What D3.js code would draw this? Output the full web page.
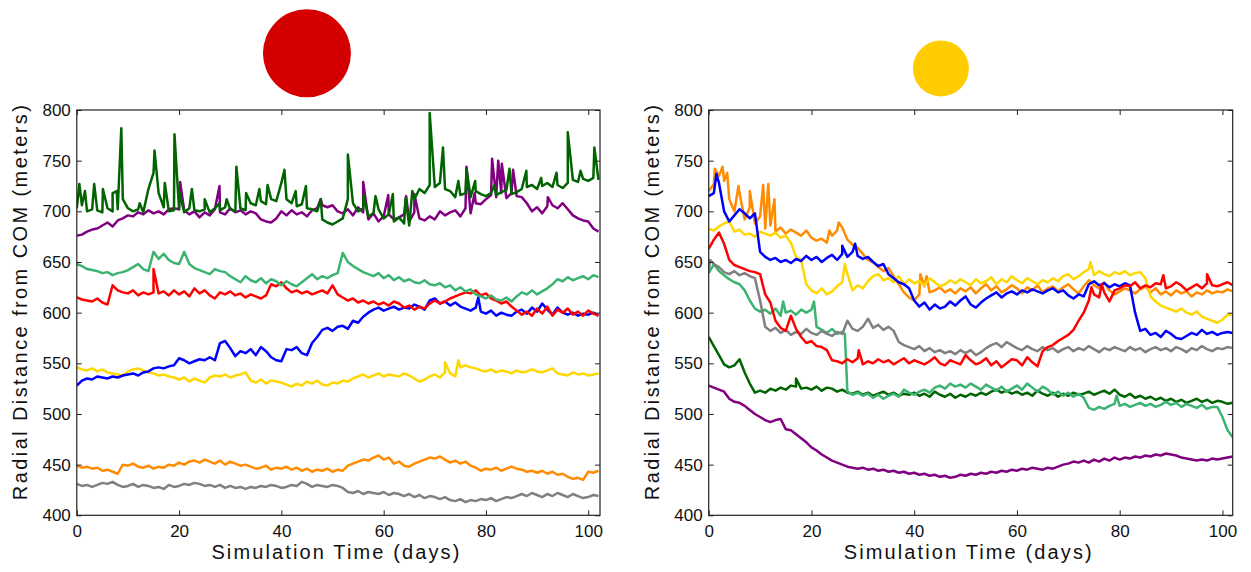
<!DOCTYPE html>
<html>
<head>
<meta charset="utf-8">
<script src="https://cdn.jsdelivr.net/npm/d3@7"></script>
<style>
  body { margin: 0; background: #fff; }
  text { font-family: "Liberation Sans", Arial, sans-serif; fill: #111; }
</style>
</head>
<body>
<script>
// Radial distance (m) sampled once per simulated day, day 0..102
// ---- left panel ----
var leftGray = [431,429,430,428,430,432,431,433,430,428, 429,431,428,430,429,427,428,426,430,428,
  429,431,430,432,431,429,430,428,430,427, 429,427,428,426,428,427,429,428,430,429,
  427,428,430,429,433,431,428,430,429,428, 430,429,427,423,422,424,421,423,422,421,
  423,420,422,421,419,421,418,420,417,419, 418,416,418,415,414,416,413,415,414,416,
  415,417,414,416,418,417,419,421,419,422, 420,418,421,419,422,420,418,421,419,417, 418,420,419];
var leftOrange = [449,447,448,446,447,444,445,443,441,450, 449,451,448,447,449,446,448,447,450,449,
  452,450,453,454,452,455,453,451,454,450, 453,451,449,450,448,446,447,449,445,447,
  446,448,445,447,444,446,443,445,444,446, 443,445,444,449,451,453,455,454,457,459,
  455,457,451,453,449,448,451,453,455,457, 456,458,455,452,454,451,453,449,447,444,
  446,445,447,444,446,448,446,445,443,444, 442,444,441,443,440,441,438,436,437,435, 443,442,444];
var leftGold = [546,544,543,545,542,544,541,540,539,538, 542,544,545,543,541,540,538,539,537,536,
  534,536,532,535,533,531,536,538,537,539, 536,538,539,541,533,531,534,530,533,532,
  531,529,527,530,528,532,530,533,529,528, 531,530,533,532,535,537,539,536,538,540,
  537,539,538,537,540,538,535,532,534,537, 539,536,541,540,537,546,548,546,545,543,
  542,544,541,543,542,540,543,541,542,544, 542,541,543,545,540,539,538,541,539,540, 538,539,540];
var leftBlue = [528,533,535,534,537,536,535,537,536,538, 539,540,538,541,542,545,546,545,547,548,
  555,553,550,552,554,553,556,553,570,572, 565,557,562,560,564,558,566,562,556,553,
  552,564,563,566,560,558,570,576,583,585, 582,586,587,584,592,590,596,600,603,605,
  602,604,606,603,605,604,608,606,603,612, 614,609,611,607,610,606,604,602,605,601,
  599,602,597,600,598,597,601,603,599,605, 601,609,603,598,605,600,598,600,597,599, 598,600,597];
var leftRed = [615,613,612,611,614,610,608,627,622,620, 619,622,617,620,618,620,619,621,617,622,
  618,621,616,624,619,622,617,614,620,618, 621,617,619,615,618,616,614,617,628,626,
  630,624,620,622,619,621,618,620,622,619, 627,618,615,612,614,610,612,609,611,608,
  610,607,611,609,605,607,603,606,604,609, 612,609,611,614,616,618,620,619,622,617,
  619,614,612,609,611,606,602,598,601,597, 604,599,606,597,603,600,604,598,601,597, 602,599,597];
var leftSeaGreen = [648,646,643,642,641,639,640,637,639,640, 642,645,648,643,641,660,653,658,652,649,
  648,660,648,644,642,640,638,643,641,640, 636,633,630,636,632,630,634,629,633,631,
  627,631,628,626,630,634,638,633,636,634, 637,639,659,650,646,643,640,638,636,639,
  634,637,632,635,631,633,630,629,632,628, 627,629,625,627,622,625,621,623,618,616,
  614,617,613,612,615,611,616,620,618,622, 618,621,624,628,633,631,635,632,634,636, 633,637,635];
var leftPurple = [676,677,680,682,683,686,689,685,691,693, 696,695,699,697,701,698,700,697,702,703,
  702,701,697,700,694,699,696,702,699,697, 703,699,701,697,700,698,692,690,689,693,
  700,696,701,697,699,695,701,703,706,704, 706,700,698,702,696,704,699,692,698,690,
  695,697,692,694,697,690,699,693,691,695, 692,700,696,699,701,695,703,698,708,707,
  712,716,714,718,713,718,715,714,708,700, 704,698,705,706,703,708,702,696,693,691, 690,683,680];
var leftDarkGreen = [703,706,700,702,701,699,703,700,702,712, 703,700,702,699,722,738,718,704,700,701,
  702,699,703,701,700,702,699,703,701,704, 702,700,703,701,708,706,710,707,712,710,
  728,712,708,705,707,703,702,700,692,689, 687,690,693,712,708,700,703,695,698,702,
  693,697,690,694,688,686,712,722,718,726, 724,728,722,720,714,716,718,714,720,717,
  715,718,716,719,721,717,719,722,724,726, 722,725,728,724,726,723,728,731,729,732, 730,733,731];

// short excursions between daily samples: [day, metres]
var leftDarkGreenSpikes = [[0.5,727],[1.6,720],[3.4,727],[5.1,722],[7.0,718],[7.8,720],[8.7,782],[12.3,708],
  [15.2,760],[17.2,728],[19.1,776],[20.0,720],[22.5,722],[25.0,712],[27.9,708],[29.3,712],[31.2,744],
  [33.1,718],[35.7,722],[37.3,726],[40.6,741],[42.8,720],[44.8,725],[47.7,712],[53.0,756],[56.1,716],
  [58.4,715],[61.8,717],[64.3,713],[65.6,720],[69.0,797],[71.6,763],[74.6,730],[76.2,742],[77.9,730],
  [81.7,726],[84.6,742],[87.9,740],[90.8,733],[93.8,738],[96.0,778],[98.5,740],[101.2,763]];
var leftPurpleSpikes = [[20.2,729],[27.9,725],[47.7,712],[56.0,729],[60.9,716],[64.4,715],[66.0,717],
  [76.2,744],[77.8,718],[81.2,752],[82.4,750],[83.1,747],[85.3,741],[92.1,714]];
var leftRedSpikes = [[15.0,643]];
var leftBlueSpikes = [[78.5,615]];
var leftGoldSpikes = [[72.0,551],[74.6,553]];

// ---- right panel ----
var rightPurple = [528,526,524,522,515,512,511,508,504,500, 497,494,492,494,495,485,484,480,476,472,
  467,464,460,457,454,452,450,448,447,446, 447,445,446,444,445,443,444,442,443,441,
  442,440,441,439,440,438,439,437,438,440, 439,441,440,442,441,443,442,444,443,445,
  444,446,445,447,446,445,447,446,448,450, 451,453,452,454,452,455,453,456,454,457,
  455,457,456,458,457,459,458,460,459,461, 460,459,457,456,455,454,455,454,456,455, 456,457,458];
var rightDarkGreen = [576,567,558,549,546,548,554,541,530,521, 523,521,525,523,526,524,528,527,525,526,
  524,527,523,526,525,522,524,521,520,522, 519,521,518,520,522,519,521,518,520,519,
  521,518,520,517,522,519,517,520,516,519, 517,520,518,521,519,522,524,521,523,520,
  522,519,521,518,523,520,518,521,517,520, 518,521,519,520,522,519,521,523,520,524,
  519,517,520,516,518,515,517,514,516,513, 515,512,514,511,513,515,512,514,511,513, 512,510,511];
var rightSeaGreen = [639,648,641,637,633,630,628,622,612,604, 601,603,599,604,597,600,602,598,603,600,
  603,586,583,580,584,579,581,522,519,521, 518,520,516,519,515,518,520,517,524,521,
  519,522,524,521,526,528,525,530,527,529, 526,530,527,524,529,526,523,527,522,525,
  528,524,530,526,522,527,524,519,522,518, 521,517,520,516,506,504,507,505,508,510,
  508,510,507,509,511,508,510,507,509,512, 509,511,507,510,508,506,509,505,507,507, 497,484,477];
var rightGray = [643,648,645,640,638,641,637,639,636,634, 612,586,582,585,580,583,578,581,579,584,
  580,578,582,579,577,581,579,592,584,582, 586,594,585,588,583,586,582,571,568,566,
  564,567,562,565,561,563,560,562,559,563, 560,563,558,561,565,568,570,566,571,568,
  565,563,567,564,562,566,563,565,561,564, 566,562,565,563,567,564,561,565,563,566,
  564,562,566,563,565,561,564,566,563,565, 562,566,564,561,565,563,567,564,562,565, 564,566,565];
var rightOrange = [720,727,735,730,712,700,718,692,704,688, 695,683,686,680,684,678,682,679,676,681,
  674,671,673,669,676,681,684,672,667,664, 658,652,650,645,641,644,636,628,620,615,
  612,618,626,620,622,625,620,623,619,624, 621,625,619,624,628,622,626,620,623,627,
  624,619,625,622,627,620,624,626,621,625, 628,623,619,626,632,627,624,630,622,618,
  621,624,622,619,623,626,620,624,618,621, 617,622,619,621,616,620,618,622,619,621, 620,623,621];
var rightBlue = [715,718,728,700,690,696,702,698,693,698, 660,655,652,654,650,652,649,653,651,656,
  652,655,650,654,657,652,658,655,660,656, 653,655,650,646,648,638,634,630,628,624,
  612,606,610,603,608,604,606,611,607,612, 616,608,605,610,614,617,620,615,619,621,
  618,622,620,623,621,619,622,624,620,622, 617,614,618,616,628,631,627,629,625,628,
  626,629,627,600,582,584,578,580,576,582, 579,575,574,577,580,578,583,579,581,578, 580,581,580];
var rightGold = [683,681,685,688,690,680,682,677,678,675, 680,678,676,679,674,676,669,655,652,628,
  622,619,624,618,621,626,630,638,622,627, 624,631,636,638,632,634,630,636,628,633,
  629,631,627,634,630,626,628,632,629,633, 630,627,633,629,631,635,628,633,630,636,
  632,629,634,631,628,632,630,634,631,636, 638,633,636,640,643,637,641,638,636,640,
  638,641,637,639,640,634,616,611,607,605, 603,601,604,600,598,601,596,594,592,590, 593,598,598];
var rightRed = [663,672,679,668,652,647,645,643,641,640, 638,618,610,592,585,582,597,584,576,570,
  572,567,566,563,553,552,550,554,551,555, 549,552,550,554,551,553,549,552,555,550,
  553,551,549,552,556,550,548,553,551,549, 558,553,549,551,555,548,552,546,550,554,
  553,548,556,551,547,562,566,568,572,575, 578,583,592,600,612,618,615,620,611,622,
  624,627,626,630,624,627,625,629,628,624, 626,630,627,622,625,628,624,629,627,626, 628,630,627];

var rightOrangeSpikes = [[1.2,742],[2.7,744],[3.6,738],[5.8,725],[8.0,720],[10.6,726],[11.6,727],[12.8,712],[23.5,681],[25.3,689],[41.2,638],[42.4,636]];
var rightBlueSpikes = [[1.5,737],[26.0,666],[28.5,668]];
var rightGoldSpikes = [[26.5,648],[74.3,650]];
var rightRedSpikes = [[29.2,563],[74.5,625],[76.5,628],[88.5,637],[97.0,638]];
var rightGraySpikes = [[0.3,652]];
var rightSeaGreenSpikes = [[14.5,611],[20.5,611],[26.5,579],[79.4,518]];
var rightDarkGreenSpikes = [[17.0,535]];

var xTicks = [0, 20, 40, 60, 80, 100],
    yTicks = [400, 450, 500, 550, 600, 650, 700, 750, 800];

var colors = {
  gray: "#808080", orange: "#ff8c00", gold: "#ffd700", blue: "#0000ff",
  red: "#ff0000", seagreen: "#3cb371", purple: "#800080", darkgreen: "#006400"
};

// series in drawing order (last on top)
var leftSeries = [
  {c: "gray", v: leftGray}, {c: "orange", v: leftOrange}, {c: "gold", v: leftGold, s: leftGoldSpikes},
  {c: "blue", v: leftBlue, s: leftBlueSpikes}, {c: "red", v: leftRed, s: leftRedSpikes},
  {c: "seagreen", v: leftSeaGreen}, {c: "purple", v: leftPurple, s: leftPurpleSpikes},
  {c: "darkgreen", v: leftDarkGreen, s: leftDarkGreenSpikes}
];
var rightSeries = [
  {c: "purple", v: rightPurple}, {c: "darkgreen", v: rightDarkGreen, s: rightDarkGreenSpikes},
  {c: "seagreen", v: rightSeaGreen, s: rightSeaGreenSpikes}, {c: "gray", v: rightGray, s: rightGraySpikes},
  {c: "orange", v: rightOrange, s: rightOrangeSpikes}, {c: "gold", v: rightGold, s: rightGoldSpikes},
  {c: "blue", v: rightBlue, s: rightBlueSpikes}, {c: "red", v: rightRed, s: rightRedSpikes}
];

var W = 1251, H = 572;
var svg = d3.select("body").append("svg")
            .attr("width", W)
            .attr("height", H);

var panels = [
  {left: 76.8, right: 600, xMax: 102.3, series: leftSeries, id: "L",
   dot: {t: 45, v: 856, r: 44, fill: "#d40000"}},
  {left: 708.7, right: 1232.7, xMax: 102, series: rightSeries, id: "R",
   dot: {t: 45.2, v: 841, r: 28, fill: "#ffcc00"}}
];
var plotTop = 110, plotBottom = 515.3;

function toPoints(d) {
  var pts = d.v.map((v, i) => [i, v]);
  if (d.s) pts = pts.concat(d.s);
  return pts.sort((a, b) => a[0] - b[0]);
}

panels.forEach(p => {
  var x = d3.scaleLinear().domain([0, p.xMax]).range([p.left, p.right]),
      y = d3.scaleLinear().domain([400, 800]).range([plotBottom, plotTop]);

  var line = d3.line()
      .x(d => x(d[0]))
      .y(d => y(d[1]));

  svg.append("defs").append("clipPath")
     .attr("id", "clip" + p.id)
     .append("rect")
     .attr("x", p.left).attr("y", plotTop)
     .attr("width", p.right - p.left).attr("height", plotBottom - plotTop);

  // marker circle above the plot
  svg.append("circle")
     .attr("cx", x(p.dot.t))
     .attr("cy", y(p.dot.v))
     .attr("r", p.dot.r)
     .attr("fill", p.dot.fill);

  svg.append("g")
     .attr("clip-path", "url(#clip" + p.id + ")")
     .selectAll("path")
     .data(p.series)
     .enter()
     .append("path")
     .attr("d", d => line(toPoints(d)))
     .attr("fill", "none")
     .attr("stroke", d => colors[d.c])
     .attr("stroke-width", 2.5)
     .attr("stroke-linejoin", "round");

  // axes, ticks pointing inward on all four sides
  var gx = svg.append("g")
     .attr("transform", "translate(0," + plotBottom + ")")
     .call(d3.axisBottom(x).tickValues(xTicks).tickSizeInner(-5).tickSizeOuter(0).tickPadding(10));
  var gy = svg.append("g")
     .attr("transform", "translate(" + p.left + ",0)")
     .call(d3.axisLeft(y).tickValues(yTicks).tickSizeInner(-5).tickSizeOuter(0).tickPadding(6));
  var gt = svg.append("g")
     .attr("transform", "translate(0," + plotTop + ")")
     .call(d3.axisTop(x).tickValues(xTicks).tickSizeInner(-5).tickSizeOuter(0).tickFormat(""));
  var gr = svg.append("g")
     .attr("transform", "translate(" + p.right + ",0)")
     .call(d3.axisRight(y).tickValues(yTicks).tickSizeInner(-5).tickSizeOuter(0).tickFormat(""));

  [gx, gy, gt, gr].forEach(g => {
    g.select(".domain").remove();
    g.selectAll(".tick line").attr("stroke", "#222");
    g.selectAll(".tick text")
     .style("font-family", "'Liberation Sans', Arial, sans-serif")
     .style("font-size", "17px")
     .attr("fill", "#111");
  });

  svg.append("rect")
     .attr("x", p.left).attr("y", plotTop)
     .attr("width", p.right - p.left).attr("height", plotBottom - plotTop)
     .attr("fill", "none")
     .attr("stroke", "#222")
     .attr("stroke-width", 1.2);

  svg.append("text")
     .attr("x", (p.left + p.right) / 2 - 3)
     .attr("y", 559)
     .attr("text-anchor", "middle")
     .attr("textLength", 248)
     .style("font-size", "20px")
     .text("Simulation Time (days)");

  svg.append("text")
     .attr("transform", "translate(" + (p.left - 50) + "," + ((plotTop + plotBottom) / 2 - 10) + ") rotate(-90)")
     .attr("text-anchor", "middle")
     .attr("textLength", 395)
     .style("font-size", "20px")
     .text("Radial Distance from COM (meters)");
});
</script>
</body>
</html>
